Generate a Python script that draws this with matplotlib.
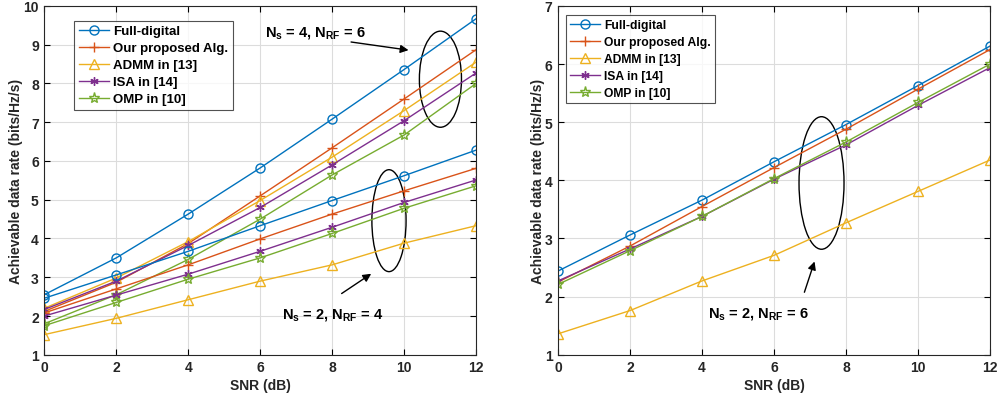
import matplotlib
matplotlib.use("Agg")
import matplotlib.pyplot as plt
from matplotlib.patches import Ellipse

plt.rcParams['font.family'] = ['Liberation Sans', 'DejaVu Sans']
plt.rcParams['font.weight'] = 'bold'
plt.rcParams['mathtext.fontset'] = 'custom'
plt.rcParams['mathtext.rm'] = 'Liberation Sans:bold'
plt.rcParams['mathtext.bf'] = 'Liberation Sans:bold'
plt.rcParams['mathtext.it'] = 'Liberation Sans:bold'

snr = [0, 2, 4, 6, 8, 10, 12]
labels = ['Full-digital', 'Our proposed Alg.', 'ADMM in [13]', 'ISA in [14]', 'OMP in [10]']

# Left panel, N_s = 4, N_RF = 6
L_full_a = [2.55, 3.50, 4.63, 5.82, 7.08, 8.36, 9.67]
L_prop_a = [2.12, 2.87, 3.87, 5.10, 6.34, 7.60, 8.87]
L_admm_a = [2.20, 2.98, 3.92, 4.98, 6.10, 7.30, 8.55]
L_isa_a = [2.17, 2.90, 3.82, 4.80, 5.90, 7.04, 8.27]
L_omp_a = [1.80, 2.55, 3.46, 4.50, 5.64, 6.67, 8.00]
# Left panel, N_s = 2, N_RF = 4
L_full_b = [2.46, 3.06, 3.67, 4.33, 4.98, 5.62, 6.28]
L_prop_b = [2.08, 2.70, 3.32, 3.99, 4.63, 5.23, 5.81]
L_admm_b = [1.52, 1.94, 2.42, 2.90, 3.32, 3.88, 4.33]
L_isa_b = [2.00, 2.54, 3.08, 3.67, 4.29, 4.93, 5.51]
L_omp_b = [1.75, 2.35, 2.95, 3.50, 4.13, 4.78, 5.36]
# Right panel, N_s = 2, N_RF = 6
R_full = [2.44, 3.06, 3.66, 4.32, 4.96, 5.63, 6.31]
R_prop = [2.25, 2.87, 3.55, 4.22, 4.88, 5.57, 6.25]
R_admm = [1.36, 1.76, 2.27, 2.71, 3.27, 3.81, 4.35]
R_isa = [2.27, 2.82, 3.38, 4.02, 4.61, 5.29, 5.94]
R_omp = [2.21, 2.79, 3.38, 4.03, 4.66, 5.34, 6.00]

colors = ['#0072BD', '#D95319', '#EDB120', '#7E2F8E', '#77AC30']
markers = ['o', '+', '^', (6, 2, 0), '*']
msizes = [6.5, 7, 7, 6, 8]

fig = plt.figure(figsize=(9.98, 4.02), dpi=100)
axL = fig.add_axes([0.0444, 0.115, 0.4326, 0.8677])
axR = fig.add_axes([0.5591, 0.115, 0.4329, 0.8677])


def plot_set(ax, sets, with_label):
    for i, ys in enumerate(sets):
        ax.plot(snr, ys, color=colors[i], marker=markers[i], markersize=msizes[i],
                markerfacecolor='none', markeredgewidth=1.0, linewidth=1.0,
                label=labels[i] if with_label else None)


plot_set(axL, [L_full_a, L_prop_a, L_admm_a, L_isa_a, L_omp_a], True)
plot_set(axL, [L_full_b, L_prop_b, L_admm_b, L_isa_b, L_omp_b], False)
plot_set(axR, [R_full, R_prop, R_admm, R_isa, R_omp], True)

for ax, ymax in [(axL, 10), (axR, 7)]:
    ax.set_xlim(0, 12)
    ax.set_ylim(1, ymax)
    ax.set_xticks(snr)
    ax.set_yticks(range(1, ymax + 1))
    ax.grid(True, color='#dcdcdc', linewidth=0.8)
    ax.set_axisbelow(True)
    ax.tick_params(direction='in', top=True, right=True, labelsize=10, length=4,
                   width=0.8, pad=4)
    for lab in ax.get_xticklabels() + ax.get_yticklabels():
        lab.set_fontweight('bold')
        lab.set_color('#262626')
    for s in ax.spines.values():
        s.set_linewidth(0.8)
        s.set_color('#262626')
    ax.set_xlabel('SNR (dB)', fontsize=10, fontweight='bold', color='#262626', labelpad=3)
    ax.set_ylabel('Achievable data rate (bits/Hz/s)', fontsize=10, fontweight='bold',
                  color='#262626', labelpad=0)

legL = axL.legend(loc='upper left', fontsize=9.5, frameon=True, fancybox=False,
                  edgecolor='#262626', borderpad=0.35, labelspacing=0.36,
                  handlelength=2.3, handletextpad=0.3, borderaxespad=0,
                  bbox_to_anchor=(0.069, 0.958))
legR = axR.legend(loc='upper left', fontsize=8.7, frameon=True, fancybox=False,
                  edgecolor='#262626', borderpad=0.35, labelspacing=0.42,
                  handlelength=2.5, handletextpad=0.3, borderaxespad=0,
                  bbox_to_anchor=(0.018, 0.975))
for leg in (legL, legR):
    leg.get_frame().set_linewidth(0.8)
    for t in leg.get_texts():
        t.set_fontweight('bold')

lab_a = r'N$_\mathregular{s}$ = 4, N$_\mathregular{RF}$ = 6'
lab_b = r'N$_\mathregular{s}$ = 2, N$_\mathregular{RF}$ = 4'
lab_c = r'N$_\mathregular{s}$ = 2, N$_\mathregular{RF}$ = 6'

# Left annotations
axL.add_patch(Ellipse((11.01, 8.11), 1.17, 2.48, fill=False, color='black', lw=1.0))
axL.add_patch(Ellipse((9.58, 4.46), 0.95, 2.63, fill=False, color='black', lw=1.0))
axL.text(6.13, 9.33, lab_a, fontsize=10.5, fontweight='bold', ha='left', va='center')
axL.annotate('', xy=(10.2, 8.85), xytext=(8.45, 9.08),
             arrowprops=dict(arrowstyle='-|>', color='black', lw=1.0, mutation_scale=12))
axL.text(6.6, 2.05, lab_b, fontsize=10.5, fontweight='bold', ha='left', va='center')
axL.annotate('', xy=(9.15, 3.13), xytext=(8.2, 2.54),
             arrowprops=dict(arrowstyle='-|>', color='black', lw=1.0, mutation_scale=12))

# Right annotations
axR.add_patch(Ellipse((7.32, 3.955), 1.25, 2.28, fill=False, color='black', lw=1.0))
axR.text(4.17, 1.72, lab_c, fontsize=10.5, fontweight='bold', ha='left', va='center')
axR.annotate('', xy=(7.15, 2.65), xytext=(6.82, 2.03),
             arrowprops=dict(arrowstyle='-|>', color='black', lw=1.0, mutation_scale=12))

fig.savefig('out.png', dpi=100)
